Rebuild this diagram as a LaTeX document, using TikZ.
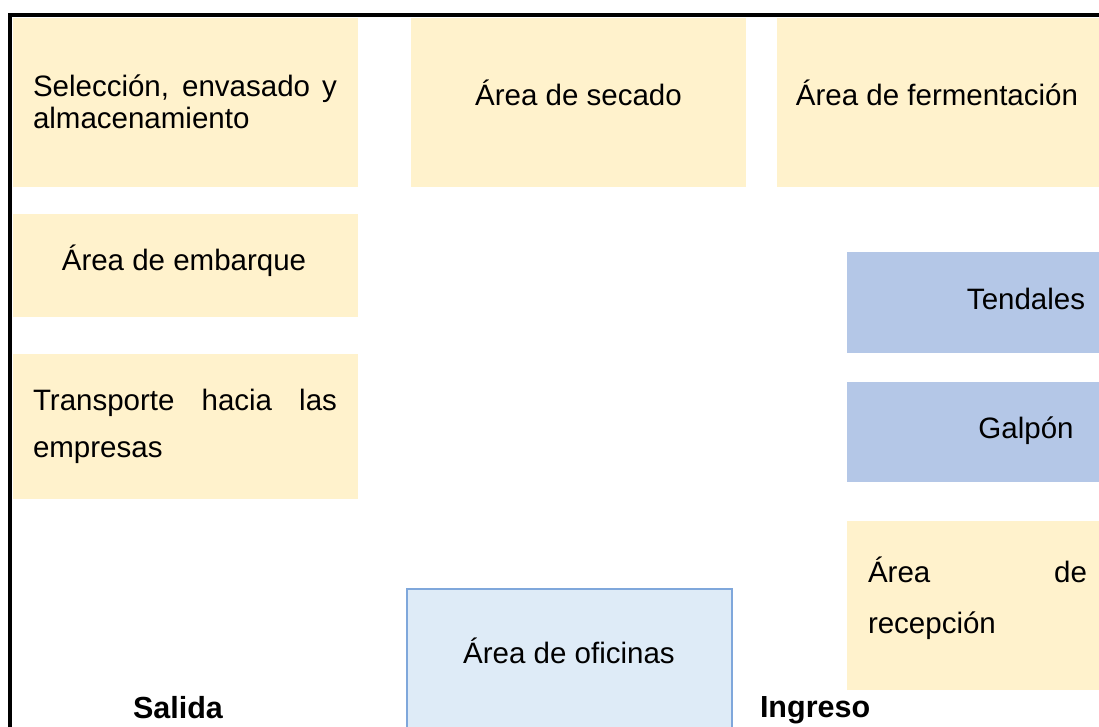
\documentclass[tikz,border=0pt]{standalone}
\usepackage{fontspec}
\setmainfont{Liberation Sans}
\definecolor{cream}{HTML}{FFF2CC}
\definecolor{blueA}{HTML}{B4C7E7}
\definecolor{blueL}{HTML}{DEEBF7}
\definecolor{blueB}{HTML}{7FA7DB}
\begin{document}
\begin{tikzpicture}[x=1pt,y=-1pt,
  area/.style={draw=none, inner sep=0pt, outer sep=0pt, anchor=north west},
  creambox/.style={area, fill=cream},
  bluebox/.style={area, fill=blueA},
  officebox/.style={area, fill=blueL},
  lbl/.style={inner sep=0pt, outer sep=0pt, font=\fontsize{29.5}{34}\selectfont},
  blbl/.style={inner sep=0pt, outer sep=0pt, font=\fontsize{30.5}{34}\selectfont\bfseries}]
\useasboundingbox (0,0) rectangle (1099,727);

% outer border (left and top)
\draw[line width=3.5pt] (10,727) -- (10,15) -- (1099,15);

% boxes
\node[creambox, minimum width=345pt, minimum height=169pt] (sel) at (13,18) {};
\node[creambox, minimum width=335pt, minimum height=169pt] (sec) at (411,18) {};
\node[creambox, minimum width=322pt, minimum height=169pt] (fer) at (777,18) {};
\node[creambox, minimum width=345pt, minimum height=103pt] (emb) at (13,214) {};
\node[creambox, minimum width=345pt, minimum height=145pt] (tra) at (13,354) {};
\node[bluebox, minimum width=252pt, minimum height=101pt] (ten) at (847,252) {};
\node[bluebox, minimum width=252pt, minimum height=100pt] (gal) at (847,382) {};
\node[creambox, minimum width=252pt, minimum height=169pt] (rec) at (847,521) {};
\node[officebox, minimum width=325pt, minimum height=138pt] (ofi) at (407,589) {};
\draw[blueB, line width=1.2pt] (ofi.south west) -- (ofi.north west) -- (ofi.north east) -- (ofi.south east);

% texts
\node[lbl, anchor=base west] (sel1) at (33,97) {\makebox[304pt][s]{Selección, envasado y}};
\node[lbl, anchor=base west] (sel2) at (33,129) {almacenamiento};
\node[lbl, anchor=base] (sect) at (578.5,106) {Área de secado};
\node[lbl, anchor=base] (fert) at (937,106) {Área de fermentación};
\node[lbl, anchor=base] (embt) at (184,270) {Área de embarque};
\node[lbl, anchor=base west] (tra1) at (33,410) {\makebox[304pt][s]{Transporte hacia las}};
\node[lbl, anchor=base west] (tra2) at (33,457) {empresas};
\node[lbl, anchor=base] (tent) at (1026,309) {Tendales};
\node[lbl, anchor=base] (galt) at (1026,438) {Galpón};
\node[lbl, anchor=base west] (rec1) at (868,582) {\makebox[219pt][s]{Área de}};
\node[lbl, anchor=base west] (rec2) at (868,633) {recepción};
\node[lbl, anchor=base] (ofit) at (569,663) {Área de oficinas};
\node[blbl, anchor=base west] (sal) at (133,718) {Salida};
\node[blbl, anchor=base west] (ing) at (760,717) {Ingreso};
\end{tikzpicture}
\end{document}
